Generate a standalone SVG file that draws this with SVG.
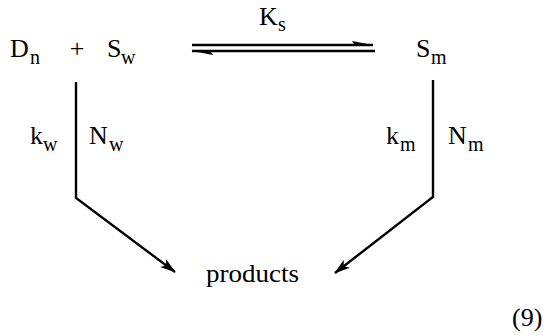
<svg xmlns="http://www.w3.org/2000/svg" width="543" height="335" viewBox="0 0 543 335">
<style>
.m{font-size:26px}
.s{font-size:20px}
.ln{stroke:#000;stroke-width:2.4;fill:none}
</style>
<defs>
<marker id="ah" markerWidth="16" markerHeight="10" refX="15" refY="5" orient="auto" markerUnits="userSpaceOnUse">
<path d="M0,0 L16,5 L0,10 L4,5 Z" fill="#000"/>
</marker>
</defs>
<rect width="543" height="335" fill="#fff"/>
<g font-family="Liberation Serif" fill="#000">
<g id="Dn"><text class="m" x="10" y="57">D</text><text class="s" x="30" y="64">n</text></g>
<g id="plus"><text class="m" x="77" y="57" text-anchor="middle">+</text></g>
<g id="Sw"><text class="m" x="107" y="57">S</text><text class="s" x="121" y="64">w</text></g>
<g id="Sm"><text class="m" x="416" y="57">S</text><text class="s" x="431" y="64">m</text></g>
<g id="products"><text class="m" x="206" y="282" textLength="93" lengthAdjust="spacingAndGlyphs">products</text></g>
<g id="eqnum"><text class="m" x="512" y="326">(9)</text></g>
<g id="labels">
<text class="m" x="30" y="144">k</text><text class="s" x="43" y="151">w</text>
<text class="m" x="89" y="144">N</text><text class="s" x="109" y="151">w</text>
<text class="m" x="386" y="144">k</text><text class="s" x="400" y="151">m</text>
<text class="m" x="448" y="144">N</text><text class="s" x="468" y="151">m</text>
<text class="m" x="259" y="25">K</text><text class="s" x="278" y="31">s</text>
</g>
</g>
<g id="connectors">
<line class="ln" x1="192" y1="45" x2="373" y2="45"/>
<polygon points="374,45.2 352,41 355,45.2" fill="#000"/>
<line class="ln" x1="192" y1="51" x2="375" y2="51"/>
<polygon points="191,50.8 213,55 210,50.8" fill="#000"/>
<path class="ln" d="M76,82 V198 L175,272" marker-end="url(#ah)"/>
<path class="ln" d="M433,80 V197 L335,273" marker-end="url(#ah)"/>
</g>
</svg>
